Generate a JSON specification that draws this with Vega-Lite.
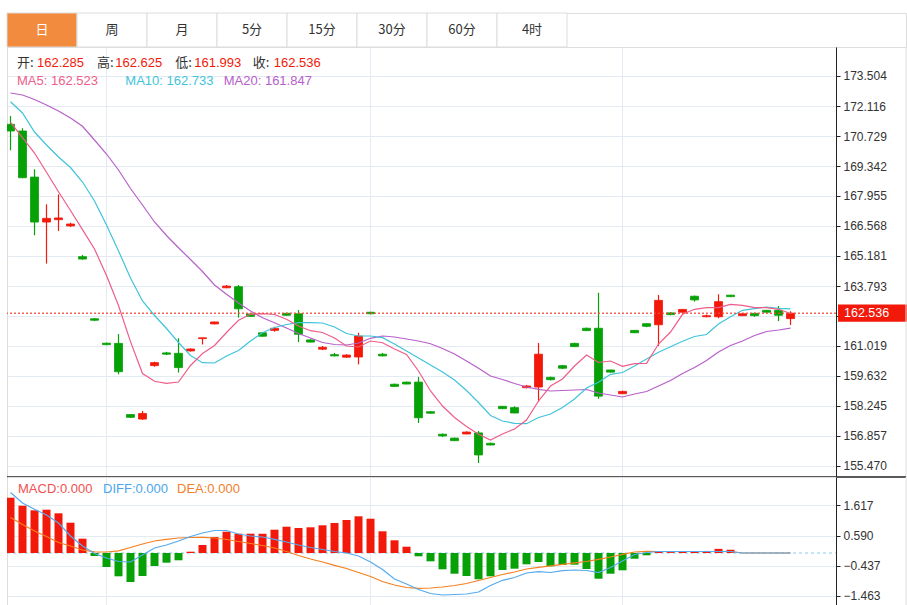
{
  "$schema": "https://vega.github.io/schema/vega-lite/v6.json",
  "padding": {"left": 5, "top": 12, "right": 0, "bottom": 0},
  "background": "white",
  "spacing": 0,
  "bounds": "flush",
  "resolve": {"scale": {"x": "independent", "y": "independent"}},
  "config": {
    "view": {"stroke": "#dddddd"},
    "font": "Liberation Sans",
    "axis": {"labelFont": "Liberation Sans", "labelFontSize": 12, "labelColor": "#333333", "domainColor": "#222222", "tickColor": "#222222", "tickSize": 4, "labelPadding": 3, "gridColor": "#e3eaf1", "gridWidth": 1, "labelOverlap": false, "labelBound": false, "labelFlush": false}
  },
  "datasets": {
    "g": [{"i": 9}, {"i": 31}, {"i": 52}],
    "k": [
      {"i":1,"o":171.27,"h":171.65,"l":170.07,"c":170.96,"m5":171.354,"m10":172.316,"m20":172.718,"macd":1.882,"dif":2.059,"dea":1.208},
      {"i":2,"o":170.96,"h":171.09,"l":168.78,"c":168.80,"m5":170.651,"m10":171.793,"m20":172.625,"macd":1.610,"dif":1.702,"dea":0.970},
      {"i":3,"o":168.83,"h":169.19,"l":166.14,"c":166.75,"m5":169.943,"m10":170.914,"m20":172.417,"macd":1.453,"dif":1.487,"dea":0.749},
      {"i":4,"o":166.75,"h":167.57,"l":164.83,"c":166.92,"m5":169.051,"m10":170.313,"m20":172.163,"macd":1.474,"dif":1.293,"dea":0.562},
      {"i":5,"o":166.86,"h":168.03,"l":166.34,"c":166.94,"m5":168.154,"m10":169.758,"m20":171.886,"macd":1.351,"dif":1.021,"dea":0.357},
      {"i":6,"o":166.57,"h":166.72,"l":166.52,"c":166.66,"m5":167.285,"m10":169.273,"m20":171.562,"macd":1.031,"dif":0.579,"dea":0.238},
      {"i":7,"o":165.15,"h":165.23,"l":165.01,"c":165.04,"m5":166.401,"m10":168.602,"m20":171.178,"macd":0.487,"dif":0.238,"dea":0.102},
      {"i":8,"o":162.28,"h":162.31,"l":162.17,"c":162.21,"m5":165.504,"m10":167.724,"m20":170.545,"macd":-0.102,"dif":-0.017,"dea":0.041},
      {"i":9,"o":161.15,"h":161.17,"l":161.06,"c":161.08,"m5":164.274,"m10":166.614,"m20":169.897,"macd":-0.477,"dif":-0.170,"dea":0.034},
      {"i":10,"o":161.14,"h":161.57,"l":159.71,"c":159.83,"m5":162.892,"m10":165.412,"m20":169.157,"macd":-0.793,"dif":-0.289,"dea":0.075},
      {"i":11,"o":157.85,"h":157.87,"l":157.69,"c":157.72,"m5":161.222,"m10":164.163,"m20":168.302,"macd":-0.987,"dif":-0.306,"dea":0.187},
      {"i":12,"o":157.64,"h":158.01,"l":157.60,"c":157.90,"m5":159.747,"m10":163.100,"m20":167.539,"macd":-0.783,"dif":-0.068,"dea":0.306},
      {"i":13,"o":160.11,"h":160.29,"l":160.06,"c":160.25,"m5":159.387,"m10":162.429,"m20":166.753,"macd":-0.442,"dif":0.170,"dea":0.408},
      {"i":14,"o":160.70,"h":160.75,"l":160.60,"c":160.64,"m5":159.294,"m10":161.828,"m20":166.128,"macd":-0.330,"dif":0.272,"dea":0.466},
      {"i":15,"o":160.68,"h":161.38,"l":159.79,"c":160.02,"m5":159.354,"m10":161.181,"m20":165.564,"macd":-0.248,"dif":0.408,"dea":0.511},
      {"i":16,"o":160.79,"h":160.91,"l":160.76,"c":160.88,"m5":160.117,"m10":160.580,"m20":165.019,"macd":0.044,"dif":0.562,"dea":0.528},
      {"i":17,"o":161.36,"h":161.40,"l":161.09,"c":161.40,"m5":160.672,"m10":160.247,"m20":164.464,"macd":0.272,"dif":0.681,"dea":0.534},
      {"i":18,"o":162.04,"h":162.14,"l":162.02,"c":162.13,"m5":161.042,"m10":160.233,"m20":163.840,"macd":0.545,"dif":0.766,"dea":0.511},
      {"i":19,"o":163.71,"h":163.84,"l":163.69,"c":163.79,"m5":161.643,"m10":160.557,"m20":163.410,"macd":0.725,"dif":0.766,"dea":0.459},
      {"i":20,"o":163.76,"h":163.84,"l":162.33,"c":162.74,"m5":162.207,"m10":160.811,"m20":163.007,"macd":0.657,"dif":0.647,"dea":0.391},
      {"i":21,"o":162.50,"h":162.53,"l":162.38,"c":162.39,"m5":162.485,"m10":161.250,"m20":162.637,"macd":0.657,"dif":0.579,"dea":0.323},
      {"i":22,"o":161.63,"h":161.65,"l":161.45,"c":161.47,"m5":162.512,"m10":161.634,"m20":162.327,"macd":0.657,"dif":0.545,"dea":0.255},
      {"i":23,"o":161.74,"h":161.91,"l":161.68,"c":161.84,"m5":162.475,"m10":161.874,"m20":162.096,"macd":0.793,"dif":0.466,"dea":0.170},
      {"i":24,"o":162.53,"h":162.56,"l":162.42,"c":162.44,"m5":162.253,"m10":162.013,"m20":161.851,"macd":0.895,"dif":0.374,"dea":0.051},
      {"i":25,"o":162.51,"h":162.68,"l":161.20,"c":161.56,"m5":161.944,"m10":162.096,"m20":161.597,"macd":0.851,"dif":0.272,"dea":-0.085},
      {"i":26,"o":161.30,"h":161.33,"l":161.19,"c":161.20,"m5":161.726,"m10":162.096,"m20":161.389,"macd":0.875,"dif":0.187,"dea":-0.204},
      {"i":27,"o":160.87,"h":161.02,"l":160.83,"c":160.96,"m5":161.643,"m10":162.082,"m20":161.181,"macd":0.943,"dif":0.119,"dea":-0.306},
      {"i":28,"o":160.62,"h":160.70,"l":160.54,"c":160.56,"m5":161.389,"m10":161.897,"m20":161.088,"macd":1.021,"dif":0.051,"dea":-0.419},
      {"i":29,"o":160.50,"h":160.64,"l":160.48,"c":160.60,"m5":161.019,"m10":161.597,"m20":161.065,"macd":1.123,"dif":0.0,"dea":-0.528},
      {"i":30,"o":160.51,"h":161.63,"l":160.17,"c":161.48,"m5":160.973,"m10":161.481,"m20":161.158,"macd":1.249,"dif":-0.102,"dea":-0.664},
      {"i":31,"o":162.58,"h":162.60,"l":162.48,"c":162.51,"m5":161.250,"m10":161.481,"m20":161.375,"macd":1.167,"dif":-0.306,"dea":-0.800},
      {"i":32,"o":160.64,"h":160.70,"l":160.54,"c":160.56,"m5":161.171,"m10":161.403,"m20":161.481,"macd":0.739,"dif":-0.562,"dea":-0.970},
      {"i":33,"o":159.25,"h":159.28,"l":159.14,"c":159.15,"m5":160.880,"m10":161.111,"m20":161.435,"macd":0.432,"dif":-0.885,"dea":-1.089},
      {"i":34,"o":159.35,"h":159.37,"l":159.25,"c":159.26,"m5":160.626,"m10":160.788,"m20":161.343,"macd":0.214,"dif":-1.055,"dea":-1.174},
      {"i":35,"o":159.35,"h":159.59,"l":157.46,"c":157.70,"m5":159.863,"m10":160.464,"m20":161.250,"macd":-0.112,"dif":-1.242,"dea":-1.201},
      {"i":36,"o":157.98,"h":158.01,"l":157.89,"c":157.91,"m5":158.938,"m10":160.140,"m20":161.125,"macd":-0.283,"dif":-1.378,"dea":-1.191},
      {"i":37,"o":156.94,"h":156.97,"l":156.81,"c":156.86,"m5":158.244,"m10":159.817,"m20":160.903,"macd":-0.555,"dif":-1.430,"dea":-1.157},
      {"i":38,"o":156.76,"h":156.78,"l":156.63,"c":156.64,"m5":157.713,"m10":159.447,"m20":160.649,"macd":-0.705,"dif":-1.413,"dea":-1.106},
      {"i":39,"o":156.95,"h":157.07,"l":156.94,"c":157.04,"m5":157.296,"m10":158.961,"m20":160.325,"macd":-0.783,"dif":-1.396,"dea":-1.038},
      {"i":40,"o":157.00,"h":157.09,"l":155.61,"c":155.98,"m5":156.936,"m10":158.406,"m20":159.988,"macd":-0.895,"dif":-1.327,"dea":-0.936},
      {"i":41,"o":156.52,"h":156.55,"l":156.43,"c":156.44,"m5":156.672,"m10":157.805,"m20":159.632,"macd":-0.793,"dif":-1.106,"dea":-0.834},
      {"i":42,"o":158.23,"h":158.24,"l":158.10,"c":158.12,"m5":156.950,"m10":157.551,"m20":159.470,"macd":-0.579,"dif":-0.929,"dea":-0.732},
      {"i":43,"o":158.17,"h":158.23,"l":157.91,"c":157.92,"m5":157.181,"m10":157.444,"m20":159.285,"macd":-0.534,"dif":-0.834,"dea":-0.647},
      {"i":44,"o":159.09,"h":159.22,"l":159.06,"c":159.17,"m5":157.597,"m10":157.426,"m20":159.123,"macd":-0.385,"dif":-0.681,"dea":-0.545},
      {"i":45,"o":159.12,"h":161.16,"l":158.44,"c":160.64,"m5":158.476,"m10":157.713,"m20":159.017,"macd":-0.306,"dif":-0.636,"dea":-0.487},
      {"i":46,"o":159.57,"h":159.60,"l":159.43,"c":159.46,"m5":159.169,"m10":157.874,"m20":158.938,"macd":-0.453,"dif":-0.664,"dea":-0.436},
      {"i":47,"o":160.11,"h":160.14,"l":159.95,"c":159.99,"m5":159.493,"m10":158.175,"m20":158.961,"macd":-0.408,"dif":-0.602,"dea":-0.385},
      {"i":48,"o":161.14,"h":161.17,"l":160.97,"c":160.99,"m5":160.094,"m10":158.568,"m20":158.984,"macd":-0.398,"dif":-0.579,"dea":-0.334},
      {"i":49,"o":161.84,"h":161.87,"l":161.71,"c":161.73,"m5":160.603,"m10":159.077,"m20":159.007,"macd":-0.545,"dif":-0.596,"dea":-0.289},
      {"i":50,"o":161.84,"h":163.48,"l":158.58,"c":158.70,"m5":160.256,"m10":159.340,"m20":158.846,"macd":-0.875,"dif":-0.664,"dea":-0.214},
      {"i":51,"o":159.91,"h":159.92,"l":159.80,"c":159.81,"m5":160.325,"m10":159.710,"m20":158.753,"macd":-0.705,"dif":-0.494,"dea":-0.136},
      {"i":52,"o":158.81,"h":158.95,"l":158.80,"c":158.92,"m5":160.080,"m10":159.793,"m20":158.661,"macd":-0.589,"dif":-0.272,"dea":-0.044},
      {"i":53,"o":161.74,"h":161.76,"l":161.62,"c":161.63,"m5":160.200,"m10":160.094,"m20":158.799,"macd":-0.194,"dif":-0.051,"dea":0.034},
      {"i":54,"o":162.05,"h":162.07,"l":161.89,"c":161.93,"m5":160.219,"m10":160.418,"m20":158.915,"macd":-0.078,"dif":0.017,"dea":0.058},
      {"i":55,"o":162.00,"h":163.38,"l":161.02,"c":163.13,"m5":161.111,"m10":160.728,"m20":159.169,"macd":0.05,"dif":0.051,"dea":0.051},
      {"i":56,"o":162.55,"h":162.59,"l":162.44,"c":162.47,"m5":161.666,"m10":160.987,"m20":159.424,"macd":0.03,"dif":0.051,"dea":0.051},
      {"i":57,"o":162.58,"h":162.73,"l":162.55,"c":162.71,"m5":162.485,"m10":161.236,"m20":159.747,"macd":0.06,"dif":0.051,"dea":0.051},
      {"i":58,"o":163.32,"h":163.35,"l":163.07,"c":163.15,"m5":162.716,"m10":161.458,"m20":160.025,"macd":0.05,"dif":0.051,"dea":0.051},
      {"i":59,"o":162.37,"h":162.47,"l":162.35,"c":162.42,"m5":162.790,"m10":161.551,"m20":160.348,"macd":0.07,"dif":0.051,"dea":0.051},
      {"i":60,"o":162.37,"h":163.41,"l":162.30,"c":163.07,"m5":162.790,"m10":162.036,"m20":160.741,"macd":0.14,"dif":0.051,"dea":0.051},
      {"i":61,"o":163.37,"h":163.38,"l":163.29,"c":163.30,"m5":162.947,"m10":162.374,"m20":161.042,"macd":0.11,"dif":0.051,"dea":0.051},
      {"i":62,"o":162.42,"h":162.54,"l":162.41,"c":162.51,"m5":162.901,"m10":162.670,"m20":161.250,"macd":0.0,"dif":0.0,"dea":0.0},
      {"i":63,"o":162.53,"h":162.56,"l":162.37,"c":162.42,"m5":162.790,"m10":162.744,"m20":161.504,"macd":0.0,"dif":0.0,"dea":0.0},
      {"i":64,"o":162.67,"h":162.68,"l":162.56,"c":162.58,"m5":162.790,"m10":162.822,"m20":161.689,"macd":0.0,"dif":0.0,"dea":0.0},
      {"i":65,"o":162.67,"h":162.87,"l":162.17,"c":162.44,"m5":162.716,"m10":162.762,"m20":161.759,"macd":0.0,"dif":0.0,"dea":0.0},
      {"i":66,"o":162.285,"h":162.625,"l":161.993,"c":162.536,"m5":162.523,"m10":162.733,"m20":161.847,"macd":0.0,"dif":0.0,"dea":0.0}
    ]
  },
  "vconcat": [
    {
      "width": 899,
      "height": 34,
      "data": {"values": [{"tab": "日"}, {"tab": "周"}, {"tab": "月"}, {"tab": "5分"}, {"tab": "15分"}, {"tab": "30分"}, {"tab": "60分"}, {"tab": "4时"}]},
      "encoding": {
        "x": {"field": "tab", "type": "nominal", "sort": null, "axis": null,
              "scale": {"domain": ["日", "周", "月", "5分", "15分", "30分", "60分", "4时"], "range": [0, 560], "paddingInner": 0, "paddingOuter": 0}}
      },
      "layer": [
        {"mark": {"type": "rect", "stroke": "#dcdcdc", "strokeWidth": 1},
         "encoding": {"fill": {"condition": {"test": "datum.tab === '日'", "value": "#f28b3d"}, "value": "#ffffff"}}},
        {"mark": {"type": "text", "font": "Noto Sans CJK SC", "fontSize": 13, "baseline": "middle"},
         "encoding": {"text": {"field": "tab"}, "color": {"condition": {"test": "datum.tab === '日'", "value": "#ffffff"}, "value": "#333333"}}}
      ]
    },
    {
      "width": 829,
      "height": 430,
      "data": {"name": "k"},
      "layer": [
        {"data": {"name": "g"},
         "mark": {"type": "rule", "color": "#e3eaf1", "strokeWidth": 1},
         "encoding": {
           "x": {"field": "i", "type": "quantitative", "scale": {"domain": [0.708, 69.79], "nice": false, "zero": false, "padding": 0}, "axis": null}
         }},
        {"mark": {"type": "rule", "strokeWidth": 1.2, "clip": true},
         "encoding": {
           "x": {"field": "i", "type": "quantitative"},
           "y": {"field": "l", "type": "quantitative", "scale": {"domain": [154.961, 174.845], "nice": false, "zero": false, "padding": 0},
                 "axis": {"orient": "right", "title": null, "grid": true, "format": ".3f", "labelOverlap": false, "tickCount": 40,
                          "values": [173.504, 172.116, 170.729, 169.342, 167.955, 166.568, 165.181, 163.793, 162.406, 161.019, 159.632, 158.245, 156.857, 155.470],
                          "labelExpr": "abs(datum.value - 162.406) < 0.001 ? '' : format(datum.value, '.3f')"}},
           "y2": {"field": "h"},
           "color": {"condition": {"test": "datum.c >= datum.o", "value": "#f2190a"}, "value": "#06a106"}
         }},
        {"mark": {"type": "bar", "size": 8, "clip": true, "strokeWidth": 0.8},
         "encoding": {
           "x": {"field": "i", "type": "quantitative"},
           "y": {"field": "o", "type": "quantitative"},
           "y2": {"field": "c"},
           "color": {"condition": {"test": "datum.c >= datum.o", "value": "#f2190a"}, "value": "#06a106"},
           "stroke": {"condition": {"test": "datum.c >= datum.o", "value": "#f2190a"}, "value": "#06a106"}
         }},
        {"mark": {"type": "line", "color": "#b760c9", "strokeWidth": 1.2, "clip": true},
         "encoding": {"x": {"field": "i", "type": "quantitative"}, "y": {"field": "m20", "type": "quantitative"}}},
        {"mark": {"type": "line", "color": "#3fc4da", "strokeWidth": 1.2, "clip": true},
         "encoding": {"x": {"field": "i", "type": "quantitative"}, "y": {"field": "m10", "type": "quantitative"}}},
        {"mark": {"type": "line", "color": "#ee5d8a", "strokeWidth": 1.2, "clip": true},
         "encoding": {"x": {"field": "i", "type": "quantitative"}, "y": {"field": "m5", "type": "quantitative"}}},
        {"data": {"values": [{}]},
         "mark": {"type": "rule", "color": "#f34a3a", "strokeDash": [2, 2], "strokeWidth": 1.5, "opacity": 0.85},
         "encoding": {"y": {"datum": 162.536}}},
        {"data": {"values": [{}]},
         "mark": {"type": "rect", "color": "#f2190a", "clip": false},
         "encoding": {"x": {"datum": 69.96}, "x2": {"datum": 76}, "y": {"datum": 162.936}, "y2": {"datum": 162.136}}},
        {"data": {"values": [{}]},
         "mark": {"type": "text", "color": "#ffffff", "align": "left", "baseline": "middle", "fontSize": 12.5, "clip": false},
         "encoding": {"x": {"datum": 70.458}, "y": {"datum": 162.536}, "text": {"value": "162.536"}}},
        {"data": {"values": [{}]},
         "mark": {"type": "rule", "color": "#dddddd", "clip": false},
         "encoding": {"x": {"datum": 75.625}}},
        {"data": {"values": [{}]},
         "mark": {"type": "rule", "color": "#222222", "strokeWidth": 1.5, "clip": false},
         "encoding": {"x": {"datum": 0.708}, "x2": {"datum": 75.625}, "y": {"datum": 154.961}}},
        {"data": {"values": [{}]}, "mark": {"type": "text", "align": "left", "baseline": "middle", "font": "Noto Sans CJK SC", "fontSize": 13, "color": "#333333"},
         "encoding": {"x": {"datum": 1.542}, "y": {"datum": 174.105}, "text": {"value": "开:"}}},
        {"data": {"values": [{}]}, "mark": {"type": "text", "align": "left", "baseline": "middle", "fontSize": 13, "color": "#f2190a"},
         "encoding": {"x": {"datum": 3.208}, "y": {"datum": 174.105}, "text": {"value": "162.285"}}},
        {"data": {"values": [{}]}, "mark": {"type": "text", "align": "left", "baseline": "middle", "font": "Noto Sans CJK SC", "fontSize": 13, "color": "#333333"},
         "encoding": {"x": {"datum": 8.208}, "y": {"datum": 174.105}, "text": {"value": "高:"}}},
        {"data": {"values": [{}]}, "mark": {"type": "text", "align": "left", "baseline": "middle", "fontSize": 13, "color": "#f2190a"},
         "encoding": {"x": {"datum": 9.733}, "y": {"datum": 174.105}, "text": {"value": "162.625"}}},
        {"data": {"values": [{}]}, "mark": {"type": "text", "align": "left", "baseline": "middle", "font": "Noto Sans CJK SC", "fontSize": 13, "color": "#333333"},
         "encoding": {"x": {"datum": 14.733}, "y": {"datum": 174.105}, "text": {"value": "低:"}}},
        {"data": {"values": [{}]}, "mark": {"type": "text", "align": "left", "baseline": "middle", "fontSize": 13, "color": "#f2190a"},
         "encoding": {"x": {"datum": 16.317}, "y": {"datum": 174.105}, "text": {"value": "161.993"}}},
        {"data": {"values": [{}]}, "mark": {"type": "text", "align": "left", "baseline": "middle", "font": "Noto Sans CJK SC", "fontSize": 13, "color": "#333333"},
         "encoding": {"x": {"datum": 21.183}, "y": {"datum": 174.105}, "text": {"value": "收:"}}},
        {"data": {"values": [{}]}, "mark": {"type": "text", "align": "left", "baseline": "middle", "fontSize": 13, "color": "#f2190a"},
         "encoding": {"x": {"datum": 22.933}, "y": {"datum": 174.105}, "text": {"value": "162.536"}}},
        {"data": {"values": [{}]}, "mark": {"type": "text", "align": "left", "baseline": "middle", "fontSize": 13, "color": "#ee5d8a"},
         "encoding": {"x": {"datum": 1.542}, "y": {"datum": 173.273}, "text": {"value": "MA5: 162.523"}}},
        {"data": {"values": [{}]}, "mark": {"type": "text", "align": "left", "baseline": "middle", "fontSize": 13, "color": "#3fc4da"},
         "encoding": {"x": {"datum": 10.567}, "y": {"datum": 173.273}, "text": {"value": "MA10: 162.733"}}},
        {"data": {"values": [{}]}, "mark": {"type": "text", "align": "left", "baseline": "middle", "fontSize": 13, "color": "#b760c9"},
         "encoding": {"x": {"datum": 18.767}, "y": {"datum": 173.273}, "text": {"value": "MA20: 161.847"}}}
      ]
    },
    {
      "width": 829,
      "height": 129,
      "data": {"name": "k"},
      "layer": [
        {"data": {"name": "g"},
         "mark": {"type": "rule", "color": "#e3eaf1", "strokeWidth": 1},
         "encoding": {
           "x": {"field": "i", "type": "quantitative", "scale": {"domain": [0.708, 69.79], "nice": false, "zero": false, "padding": 0}, "axis": null}
         }},
        {"data": {"values": [{}]},
         "mark": {"type": "rule", "color": "#8ccbee", "strokeDash": [3, 3], "strokeWidth": 1},
         "encoding": {
           "x": {"datum": 0.708, "type": "quantitative"},
           "x2": {"datum": 69.79},
           "y": {"datum": 0, "type": "quantitative", "scale": {"domain": [-1.804, 2.587], "nice": false, "zero": false, "padding": 0},
                 "axis": {"orient": "right", "title": null, "grid": true, "format": ".3f", "labelOverlap": false, "tickCount": 20, "values": [1.617, 0.59, -0.437, -1.463]}}
         }},
        {"mark": {"type": "bar", "size": 8, "clip": true},
         "encoding": {
           "x": {"field": "i", "type": "quantitative"},
           "y": {"field": "macd", "type": "quantitative"},
           "y2": {"datum": 0},
           "color": {"condition": {"test": "datum.macd >= 0", "value": "#f2190a"}, "value": "#06a106"}
         }},
        {"mark": {"type": "line", "color": "#f5801f", "strokeWidth": 1.2, "clip": true},
         "encoding": {"x": {"field": "i", "type": "quantitative"}, "y": {"field": "dea", "type": "quantitative"}}},
        {"mark": {"type": "line", "color": "#55aaf0", "strokeWidth": 1.2, "clip": true},
         "encoding": {"x": {"field": "i", "type": "quantitative"}, "y": {"field": "dif", "type": "quantitative"}}},
        {"data": {"values": [{}]},
         "mark": {"type": "rule", "color": "#dddddd", "clip": false},
         "encoding": {"x": {"datum": 75.625}}},
        {"data": {"values": [{}]}, "mark": {"type": "text", "align": "left", "baseline": "middle", "fontSize": 13, "color": "#f05050"},
         "encoding": {"x": {"datum": 1.625}, "y": {"datum": 2.195}, "text": {"value": "MACD:0.000"}}},
        {"data": {"values": [{}]}, "mark": {"type": "text", "align": "left", "baseline": "middle", "fontSize": 13, "color": "#4aa6ee"},
         "encoding": {"x": {"datum": 8.708}, "y": {"datum": 2.195}, "text": {"value": "DIFF:0.000"}}},
        {"data": {"values": [{}]}, "mark": {"type": "text", "align": "left", "baseline": "middle", "fontSize": 13, "color": "#f0802a"},
         "encoding": {"x": {"datum": 14.875}, "y": {"datum": 2.195}, "text": {"value": "DEA:0.000"}}}
      ]
    }
  ]
}
